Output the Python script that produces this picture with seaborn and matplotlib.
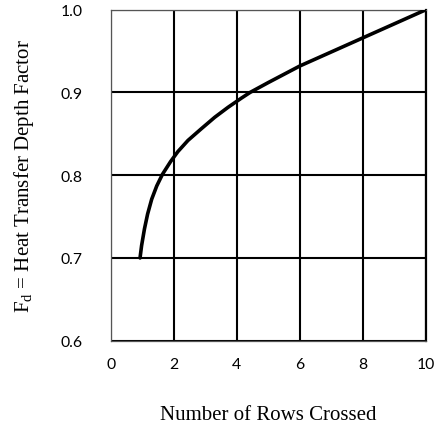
import numpy as np
import pandas as pd
import matplotlib
matplotlib.use("Agg")
import matplotlib.pyplot as plt
import seaborn as sns

# --- data ---
rows_crossed = [0.93, 0.98, 1.07, 1.17, 1.30, 1.46, 1.64, 1.90, 2.13, 2.45, 2.87, 3.30,
                3.72, 4.14, 4.42, 5.0, 6.0, 7.0, 8.0, 9.0, 10.0]
depth_factor = [0.700, 0.715, 0.735, 0.753, 0.771, 0.787, 0.801, 0.8165, 0.8285, 0.842, 0.856, 0.870,
                0.882, 0.893, 0.900, 0.912, 0.932, 0.949, 0.966, 0.983, 1.000]

x_ticks = [0, 2, 4, 6, 8, 10]
y_ticks = [0.6, 0.7, 0.8, 0.9, 1.0]
y_tick_labels = ["0.6", "0.7", "0.8", "0.9", "1.0"]

df = pd.DataFrame({"rows": rows_crossed, "fd": depth_factor})

sns.set_theme(style="white")
plt.rcParams["font.family"] = ["Lato", "DejaVu Sans"]

fig = plt.figure(figsize=(4.35, 4.31), dpi=100)
ax = fig.add_axes([0.2545, 0.2072, 0.7248, 0.7680])

sns.lineplot(data=df, x="rows", y="fd", ax=ax, color="black", linewidth=2.6,
             sort=False, estimator=None, zorder=3, solid_joinstyle="round")

ax.set_xlim(0, 10)
ax.set_ylim(0.6, 1.0)
ax.set_xticks(x_ticks)
ax.set_yticks(y_ticks)
ax.set_yticklabels(y_tick_labels)
ax.tick_params(axis="both", length=0, labelsize=11.3, colors="black")
ax.tick_params(axis="x", pad=12)
ax.tick_params(axis="y", pad=20)

# black grid lines over a thin grey frame
ax.grid(True, color="black", linewidth=1.5, zorder=1)
ax.set_axisbelow(True)
for sp in ax.spines.values():
    sp.set_color("#555555")
    sp.set_linewidth(0.9)
ax.spines["right"].set_color("black")
ax.spines["right"].set_linewidth(1.6)

ax.set_xlabel("Number of Rows Crossed", family="Liberation Serif", fontsize=15,
              color="black", labelpad=24)
ax.set_ylabel(r"F$_\mathregular{d}$ = Heat Transfer Depth Factor", family="Liberation Serif",
              fontsize=15, color="black", labelpad=18)

plt.savefig("out.png", dpi=100)
